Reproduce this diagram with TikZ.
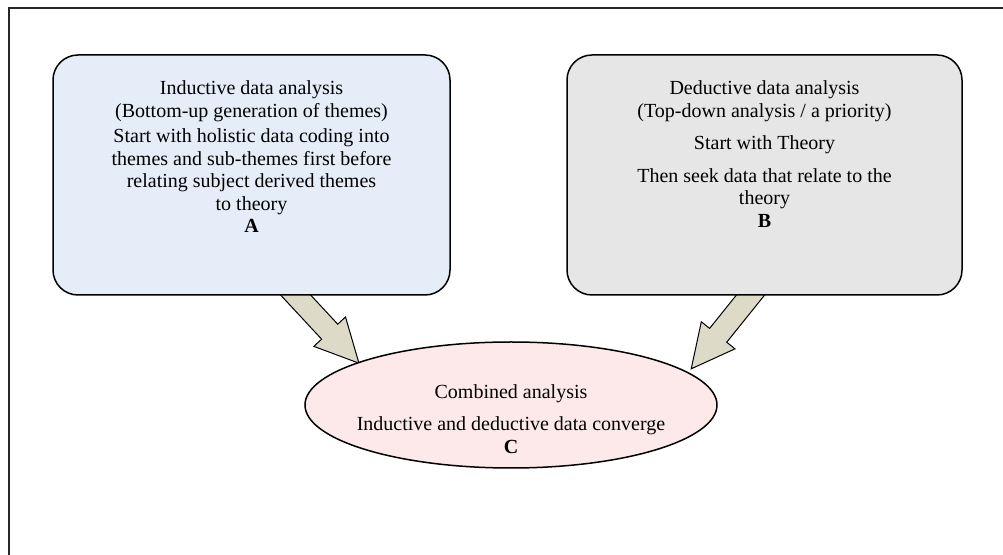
\documentclass[tikz,border=0pt]{standalone}
\usepackage{fontspec}
\setmainfont{Liberation Serif}
\usetikzlibrary{calc,positioning,shapes.geometric,backgrounds}

\definecolor{indblue}{HTML}{E5EDF8}
\definecolor{dedgray}{HTML}{E6E6E6}
\definecolor{combpink}{HTML}{FDE9EA}
\definecolor{arrowtan}{HTML}{DDDAC7}

% fat block arrow from a tail coordinate to a tip coordinate
\newcommand{\fatarrow}[2]{%
  \coordinate (fa-neck) at ($(#2)!21.5pt!(#1)$);
  \filldraw[bigarrow] ($(#1)!5.5pt!90:(#2)$) -- ($(fa-neck)!5.5pt!-90:(#1)$)
    -- ($(fa-neck)!10.8pt!-90:(#1)$) -- (#2) -- ($(fa-neck)!10.8pt!90:(#1)$)
    -- ($(fa-neck)!5.5pt!90:(#1)$) -- ($(#1)!5.5pt!-90:(#2)$) -- cycle;
}

\begin{document}
\begin{tikzpicture}[x=0.5pt,y=-0.5pt,
    every node/.style={font=\fontsize{10}{11.25}\selectfont},
    roundbox/.style={draw,line width=0.75pt,rounded corners=12.5pt,minimum width=198.5pt,minimum height=120pt,inner sep=0pt},
    txt/.style={align=center,inner sep=0pt},
    bigarrow/.style={fill=arrowtan,draw=black,line width=0.5pt}]
  \useasboundingbox (0,0) rectangle (1003,555);
  \draw[line width=0.75pt,black!85] (1003,8) -- (9,8) -- (9,555);

  \node[roundbox,fill=indblue] (A) at (251.5,175) {};
  \node[roundbox,fill=dedgray,minimum width=197.5pt] (B) at (764.5,175) {};
  \node[draw,ellipse,line width=0.75pt,fill=combpink,minimum width=206pt,minimum height=63pt,inner sep=0pt] (C) at (511,405) {};

  \node[txt] (Atext) at ($(A.center)+(0,-18)$) {Inductive data analysis\\
    (Bottom-up generation of themes)\\[1.5pt]
    Start with holistic data coding into\\
    themes and sub-themes first before\\
    relating subject derived themes\\
    to theory\\
    \textbf{A}};
  \node[txt] (Btext) at ($(B.center)+(0,-21)$) {Deductive data analysis\\
    (Top-down analysis / a priority)\\[5pt]
    Start with Theory\\[5pt]
    Then seek data that relate to the\\
    theory\\
    \textbf{B}};
  \node[txt] (Ctext) at ($(C.center)+(0,14)$) {Combined analysis\\[5pt]
    Inductive and deductive data converge\\
    \textbf{C}};

  \coordinate (tailA) at ($(A.south)+(35.5,-10)$);
  \coordinate (tailB) at ($(B.south)+(-6.5,-10)$);
  \coordinate (tipA) at ($(C.165)+(4,0)$);
  \coordinate (tipB) at ($(C.12)+(10,0)$);
  \begin{pgfonlayer}{background}
    \fatarrow{tailA}{tipA}
    \fatarrow{tailB}{tipB}
  \end{pgfonlayer}
\end{tikzpicture}
\end{document}
